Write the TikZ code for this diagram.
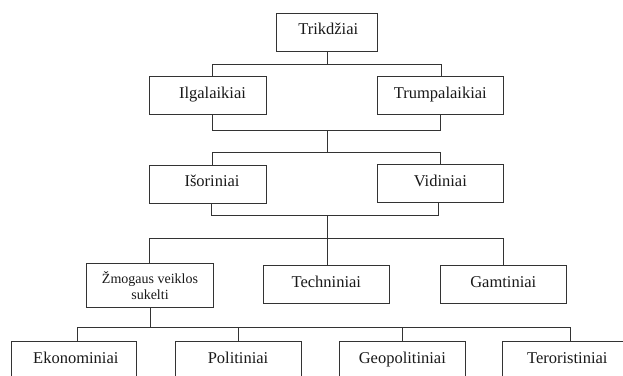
\documentclass[tikz,border=0pt]{standalone}
\usepackage{fontspec}
\setmainfont{Liberation Serif}
\begin{document}
\begin{tikzpicture}[x=1pt,y=-1pt,
  box/.style={draw=black!80, line width=0.9pt, fill=white, inner sep=0pt, align=center,
    font=\fontsize{16.5}{19}\selectfont, text=black!90},
  one/.style={text height=11.5pt, text depth=6pt},
  small/.style={font=\fontsize{14}{16}\selectfont},
  link/.style={draw=black!80, line width=0.9pt}]
\useasboundingbox (0,0) rectangle (623,375);
\clip (0,0) rectangle (623,375);
\fill[white] (0,0) rectangle (623,375);
% nodes
\node[box, one, minimum width=100.7pt, minimum height=38pt] (trik) at (326.7,32) {\hspace*{3pt}Trikdžiai};
\node[box, one, minimum width=117.4pt, minimum height=37.6pt] (ilg) at (208,95.5) {\hspace*{9pt}Ilgalaikiai};
\node[box, one, minimum width=126pt, minimum height=37.6pt] (trump) at (440.3,95.5) {Trumpalaikiai};
\node[box, one, minimum width=117.4pt, minimum height=38pt] (iso) at (208,184) {\hspace*{8pt}Išoriniai};
\node[box, one, minimum width=126pt, minimum height=38.4pt] (vid) at (440.3,183.5) {Vidiniai};
\node[box, small, minimum width=126.6pt, minimum height=44pt] (zmog) at (150,285.3) {Žmogaus veiklos\\sukelti};
\node[box, one, minimum width=126pt, minimum height=37.6pt] (tech) at (326.3,284.5) {Techniniai};
\node[box, one, minimum width=126.7pt, minimum height=37.6pt] (gamt) at (503.3,284.5) {Gamtiniai};
\node[box, one, minimum width=125.7pt, minimum height=38pt] (ekon) at (73.8,360.7) {\hspace*{4pt}Ekonominiai};
\node[box, one, minimum width=126pt, minimum height=38pt] (polit) at (238,360.7) {Politiniai};
\node[box, one, minimum width=126.7pt, minimum height=38pt] (geo) at (402.3,360.7) {Geopolitiniai};
\node[box, one, minimum width=129pt, minimum height=38pt] (teror) at (567.3,360.7) {Teroristiniai};
% junctions
\coordinate (a1) at (212.7,64); \coordinate (b1) at (441,64);
\coordinate (a2) at (212.7,130); \coordinate (b2) at (440,130); \coordinate (m2) at (327,130);
\coordinate (a3) at (212.7,152.5); \coordinate (b3) at (440,152.5);
\coordinate (a4) at (211,215.7); \coordinate (b4) at (438.3,215.7); \coordinate (m4) at (327.7,215.7);
\coordinate (a5) at (149.3,238.3); \coordinate (b5) at (503.3,238.3);
\coordinate (a6) at (77.3,327.5); \coordinate (b6) at (570,327.5);
% connectors
\draw[link] (trik.south -| m2) -- (m2 |- a1);
\draw[link] (ilg.north -| a1) -- (a1) -- (b1) -- (trump.north -| b1);
\draw[link] (ilg.south -| a2) -- (a2) -- (b2) -- (trump.south -| b2);
\draw[link] (m2) -- (m2 |- a3);
\draw[link] (iso.north -| a3) -- (a3) -- (b3) -- (vid.north -| b3);
\draw[link] (iso.south -| a4) -- (a4) -- (b4) -- (vid.south -| b4);
\draw[link] (m4) -- (tech.north -| m4);
\draw[link] (zmog.north -| a5) -- (a5) -- (b5) -- (gamt.north -| b5);
\draw[link] (zmog.south) -- (zmog.south |- a6);
\draw[link] (ekon.north -| a6) -- (a6) -- (b6) -- (teror.north -| b6);
\draw[link] (polit.north) -- (polit.north |- a6);
\draw[link] (geo.north) -- (geo.north |- a6);
\end{tikzpicture}
\end{document}
